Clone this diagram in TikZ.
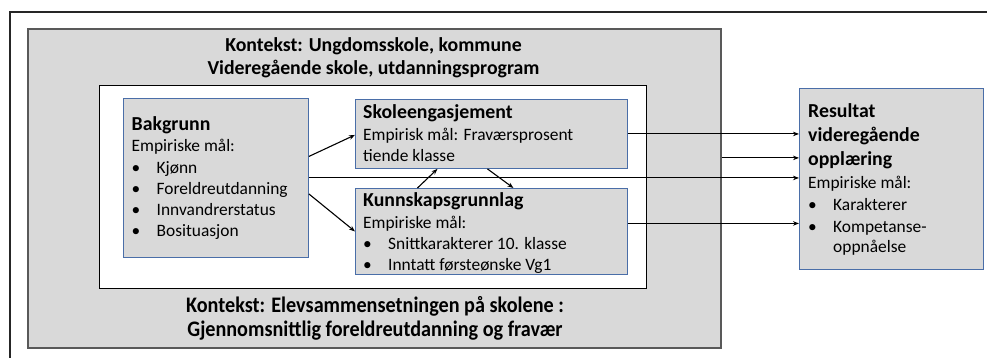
\documentclass[tikz,border=0pt]{standalone}
\usepackage{fontspec}
\setmainfont{Carlito}
\usetikzlibrary{arrows.meta}
\definecolor{boxfill}{HTML}{D9D9D9}
\definecolor{boxline}{HTML}{4A6EA8}
\definecolor{ctxline}{HTML}{595959}
\tikzset{
  ctxbox/.style={draw=ctxline, line width=1.8pt, fill=boxfill, anchor=north west, inner sep=0},
  innerbox/.style={draw=black, line width=1.1pt, fill=white, anchor=north west, inner sep=0},
  varbox/.style={draw=boxline, line width=0.9pt, fill=boxfill, anchor=north west, inner sep=0},
  ln/.style={anchor=base west, inner sep=0, font=\fontsize{17.4pt}{20pt}\selectfont},
  tl/.style={anchor=base west, inner sep=0, font=\bfseries\fontsize{19.8pt}{24pt}\selectfont},
  ctxtext/.style={anchor=base, inner sep=0, font=\bfseries\fontsize{19.8pt}{24pt}\selectfont},
  conn/.style={line width=1.1pt, -{Stealth[length=6pt,width=4.5pt]}},
}
\begin{document}
\begin{tikzpicture}[x=1pt,y=-1pt]
\useasboundingbox (0,0) rectangle (987,358);
% outer frame (cut by the picture edges)
\draw[line width=2pt, black!85] (987,12) -- (10,12) -- (10,358);
% context box
\node[ctxbox, minimum width=693pt, minimum height=319pt] (ctx) at (27,28) {};
\node[innerbox, minimum width=547pt, minimum height=203pt] (inner) at (99,85) {};
\node[ctxtext] (ctxt1) at (373.5,52) {Kontekst: Ungdomsskole, kommune};
\node[ctxtext] (ctxt2) at (373.5,74.5) {Videregående skole, utdanningsprogram};
\node[ctxtext] (ctxb1) at (375,312.5) {\scalebox{1.02}[1.12]{Kontekst: Elevsammensetningen på skolene :}};
\node[ctxtext] (ctxb2) at (375,336.5) {\scalebox{1.02}[1.12]{Gjennomsnittlig foreldreutdanning og fravær}};
% variable boxes
\node[varbox, minimum width=185pt, minimum height=159pt] (bg) at (123,98) {};
\node[varbox, minimum width=272pt, minimum height=69pt] (se) at (355,99) {};
\node[varbox, minimum width=272pt, minimum height=86pt] (kg) at (355,188) {};
\node[varbox, minimum width=184pt, minimum height=181pt] (res) at (799,88) {};
% Bakgrunn
\node[tl] (bg1) at (131.5,131) {Bakgrunn};
\node[ln] (bg2) at (131.5,152) {Empiriske mål:};
\node[ln] (bg3) at (131.5,173.5) {\makebox[25pt][l]{•}Kjønn};
\node[ln] (bg4) at (131.5,194.5) {\makebox[25pt][l]{•}Foreldreutdanning};
\node[ln] (bg5) at (131.5,215.5) {\makebox[25pt][l]{•}Innvandrerstatus};
\node[ln] (bg6) at (131.5,236.5) {\makebox[25pt][l]{•}Bosituasjon};
% Skoleengasjement
\node[tl] (se1) at (363,119) {Skoleengasjement};
\node[ln] (se2) at (363,141) {Empirisk mål: Fraværsprosent};
\node[ln] (se3) at (363,161.5) {tiende klasse};
% Kunnskapsgrunnlag
\node[tl] (kg1) at (363,207) {Kunnskapsgrunnlag};
\node[ln] (kg2) at (363,228) {Empiriske mål:};
\node[ln] (kg3) at (363,249) {\makebox[25pt][l]{•}Snittkarakterer 10. klasse};
\node[ln] (kg4) at (363,270) {\makebox[25pt][l]{•}Inntatt førsteønske Vg1};
% Resultat
\node[tl] (res1) at (808,118) {Resultat};
\node[tl] (res2) at (808,142) {videregående};
\node[tl] (res3) at (808,166) {opplæring};
\node[ln] (res4) at (808,189) {Empiriske mål:};
\node[ln] (res5) at (808,210.5) {\makebox[25pt][l]{•}Karakterer};
\node[ln] (res6) at (808,232) {\makebox[25pt][l]{•}Kompetanse-};
\node[ln] (res7) at (808,252.5) {\makebox[25pt][l]{}oppnåelse};
% connectors
\coordinate (ctxout) at ([yshift=30.5pt]ctx.east);
\draw[conn] ([yshift=21.5pt]bg.east) -- ([yshift=-1pt]se.west);
\draw[conn] ([yshift=-16pt]bg.east) -- (kg.west);
\draw[conn] ([xshift=-74pt]kg.north) -- ([xshift=-54pt]se.south);
\draw[conn] ([xshift=-4pt]se.south) -- ([xshift=22pt]kg.north);
\draw[conn] (se.east) -- (se.east -| res.west);
\draw[conn] (ctxout) -- (ctxout -| res.west);
\draw[conn] (bg.east) -- (bg.east -| res.west);
\draw[conn] ([yshift=8pt]kg.east) -- ([yshift=8pt]kg.east -| res.west);
\end{tikzpicture}
\end{document}
